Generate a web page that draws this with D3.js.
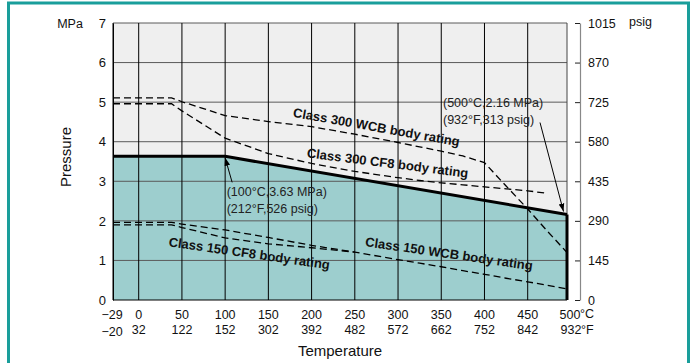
<!DOCTYPE html>
<html><head><meta charset="utf-8">
<script src="https://cdn.jsdelivr.net/npm/d3@7"></script>
<style>
html,body{margin:0;padding:0;background:#fff;}
svg{display:block;font-family:"Liberation Sans",Arial,Helvetica,sans-serif;}
</style></head>
<body>
<svg id="c" width="696" height="363"></svg>
<script>
// ---- data ----
const tempTicksC = [-29, 0, 50, 100, 150, 200, 250, 300, 350, 400, 450, 500];
const tempLabelsC = ["\u221229", "0", "50", "100", "150", "200", "250", "300", "350", "400", "450", "500"];
const tempLabelsF = ["\u221220", "32", "122", "152", "302", "392", "482", "572", "662", "752", "842", "932"];
const mpaTicks = [0, 1, 2, 3, 4, 5, 6, 7];
const psigTicks = [0, 145, 290, 435, 580, 725, 870, 1015];

const wcb300Temp = [-29, 38, 50, 100, 150, 200, 250, 300, 325, 350, 375, 400, 425, 450, 475, 500];
const wcb300MPa  = [5.11, 5.11, 5.01, 4.66, 4.51, 4.38, 4.19, 3.98, 3.87, 3.76, 3.64, 3.47, 2.88, 2.30, 1.74, 1.20];
const cf8300Temp = [-29, 38, 50, 100, 150, 200, 250, 300, 325, 350, 375, 400, 425, 450, 473];
const cf8300MPa  = [4.96, 4.96, 4.78, 4.09, 3.70, 3.45, 3.25, 3.09, 3.02, 2.96, 2.91, 2.86, 2.81, 2.76, 2.70];
const wcb150Temp = [-29, 38, 50, 100, 150, 200, 250, 300, 325, 350, 375, 400, 425, 450, 475, 500];
const wcb150MPa  = [1.96, 1.96, 1.92, 1.77, 1.58, 1.38, 1.21, 1.02, 0.93, 0.84, 0.74, 0.65, 0.55, 0.46, 0.37, 0.28];
const cf8150Temp = [-29, 38, 50, 100, 150, 200, 250];
const cf8150MPa  = [1.90, 1.90, 1.83, 1.57, 1.42, 1.32, 1.21];
const ratingTemp = [-29, 100, 500];
const ratingMPa  = [3.63, 3.63, 2.16];

const seriesLabels = ["Class 300 WCB body rating", "Class 300 CF8 body rating", "Class 150 CF8 body rating", "Class 150 WCB body rating"];
const annot1 = ["(100\u00B0C,3.63 MPa)", "(212\u00B0F,526 psig)"];
const annot2 = ["(500\u00B0C,2.16 MPa)", "(932\u00B0F,313 psig)"];

// ---- layout ----
const svg = d3.select("#c");
const L = 113, R = 567, T = 23, B = 300;
const x = d3.scaleLinear().domain([-29, 0, 450, 500]).range([L, 138.7, 527.7, R]);
const y = d3.scaleLinear().domain([0, 7]).range([B, T]);
const yP = d3.scaleLinear().domain([0, 1015]).range([B, T]);

// frame
svg.append("rect").attr("x", 8.5).attr("y", 3).attr("width", 680).attr("height", 380)
  .attr("fill", "none").attr("stroke", "#1a9e9b").attr("stroke-width", 3);

// background
svg.append("rect").attr("x", L).attr("y", T).attr("width", R - L).attr("height", B - T).attr("fill", "#efefef");

// teal area under rating line
const pts = d3.zip(ratingTemp, ratingMPa);
svg.append("path").datum(pts)
  .attr("d", d3.area().x(d => x(d[0])).y0(y(0)).y1(d => y(d[1])))
  .attr("fill", "#9dcece");

// gridlines
const g = svg.append("g");
g.selectAll("line.h").data(mpaTicks).join("line")
  .attr("x1", L).attr("x2", R).attr("y1", d => y(d)).attr("y2", d => y(d))
  .attr("stroke", d => d === 0 ? "#000" : "#5a5a5a").attr("stroke-width", 1);
g.selectAll("line.v").data(tempTicksC).join("line")
  .attr("x1", d => x(d)).attr("x2", d => x(d)).attr("y1", T).attr("y2", B)
  .attr("stroke", d => d === 500 ? "#444" : "#000").attr("stroke-width", 1);

// dashed series
const line = d3.line().x(d => x(d[0])).y(d => y(d[1]));
[[wcb300Temp, wcb300MPa], [cf8300Temp, cf8300MPa], [wcb150Temp, wcb150MPa], [cf8150Temp, cf8150MPa]].forEach(([t, v]) => {
  svg.append("path").datum(d3.zip(t, v)).attr("d", line)
    .attr("fill", "none").attr("stroke", "#000").attr("stroke-width", 1.3)
    .attr("stroke-dasharray", "7,4");
});

// solid rating line
svg.append("path").datum(pts).attr("d", line)
  .attr("fill", "none").attr("stroke", "#000").attr("stroke-width", 3);
svg.append("line").attr("x1", x(500)).attr("x2", x(500))
  .attr("y1", y(ratingMPa[2])).attr("y2", y(0)).attr("stroke", "#000").attr("stroke-width", 3);

// left axis
const ax = svg.append("g").attr("transform", `translate(${L},0)`)
  .call(d3.axisLeft(y).tickValues(mpaTicks).tickFormat(d3.format("d")).tickSize(0).tickPadding(7));
ax.select(".domain").attr("stroke", "#000");
ax.selectAll("text").attr("font-size", 13).attr("fill", "#111")
  .attr("font-family", "Liberation Sans, Arial, sans-serif");

// right axis (psig)
const axR = svg.append("g").attr("transform", "translate(580,0)")
  .call(d3.axisRight(yP).tickValues(psigTicks).tickFormat(d3.format("d")).tickSize(-5).tickSizeOuter(0).tickPadding(8));
axR.select(".domain").attr("stroke", "#888").attr("stroke-width", 1.2);
axR.selectAll(".tick line").attr("stroke", "#222");
axR.selectAll("text").attr("font-size", 12.5).attr("fill", "#111")
  .attr("font-family", "Liberation Sans, Arial, sans-serif");

// unit labels
svg.append("text").attr("x", 70).attr("y", 24).attr("text-anchor", "middle").attr("dominant-baseline", "central")
  .attr("font-size", 12.5).attr("fill", "#111").text("MPa");
svg.append("text").attr("x", 629).attr("y", 22).attr("dominant-baseline", "central")
  .attr("font-size", 12.5).attr("fill", "#111").text("psig");
svg.append("text").attr("transform", "translate(65,157) rotate(-90)").attr("text-anchor", "middle")
  .attr("dominant-baseline", "central").attr("font-size", 15).attr("fill", "#111").text("Pressure");
svg.append("text").attr("x", 340).attr("y", 350).attr("text-anchor", "middle")
  .attr("dominant-baseline", "central").attr("font-size", 15).attr("fill", "#111").text("Temperature");

// bottom tick labels
const bl = svg.append("g").attr("font-size", 12.5).attr("fill", "#111");
tempTicksC.forEach((t, i) => {
  const last = i === tempTicksC.length - 1;
  const cx = x(t) - (t === -29 ? 1 : 0) + (last ? 3 : 0);
  bl.append("text").attr("x", cx).attr("y", 315).attr("text-anchor", "middle")
    .attr("dominant-baseline", "central").text(tempLabelsC[i]);
  bl.append("text").attr("x", cx + (last ? 1 : 0)).attr("y", t === -29 ? 331.5 : 329.5).attr("text-anchor", "middle")
    .attr("dominant-baseline", "central").text(tempLabelsF[i]);
  if (last) {
    bl.append("text").attr("x", cx + 10).attr("y", 313.5).attr("dominant-baseline", "central").text("\u00B0C");
    bl.append("text").attr("x", cx + 11).attr("y", 329.5).attr("dominant-baseline", "central").text("\u00B0F");
  }
});

// series labels (positioned in data space)
const labelPos = [[275, 4.37, 10], [288, 3.46, 7.2], [128, 1.18, 8.2], [359, 1.17, 8.2]];
labelPos.forEach((p, i) => {
  svg.append("text").attr("transform", `translate(${x(p[0])},${y(p[1])}) rotate(${p[2]})`)
    .attr("text-anchor", "middle").attr("dominant-baseline", "central")
    .attr("font-size", 13).attr("font-weight", "bold").attr("fill", "#111").text(seriesLabels[i]);
});

// arrow marker
svg.append("defs").append("marker").attr("id", "ah").attr("viewBox", "0 0 10 10")
  .attr("refX", 10).attr("refY", 5).attr("markerWidth", 8).attr("markerHeight", 8)
  .attr("markerUnits", "userSpaceOnUse").attr("orient", "auto")
  .append("path").attr("d", "M0,1.5 L10,5 L0,8.5 Z").attr("fill", "#000");

// annotation 1
const p1x = x(ratingTemp[1]), p1y = y(ratingMPa[1]);
svg.append("line").attr("x1", p1x + 7).attr("y1", p1y + 26).attr("x2", p1x).attr("y2", p1y + 1.5)
  .attr("stroke", "#000").attr("stroke-width", 1).attr("marker-end", "url(#ah)");
annot1.forEach((s, i) => svg.append("text").attr("x", p1x + 1.5).attr("y", p1y + 36 + i * 16.5)
  .attr("dominant-baseline", "central").attr("font-size", 12.5).attr("fill", "#222").text(s));

// annotation 2
const p2x = x(ratingTemp[2]), p2y = y(ratingMPa[2]);
svg.append("line").attr("x1", p2x - 27).attr("y1", p2y - 92).attr("x2", p2x - 3.5).attr("y2", p2y - 3)
  .attr("stroke", "#000").attr("stroke-width", 1).attr("marker-end", "url(#ah)");
annot2.forEach((s, i) => svg.append("text").attr("x", p2x - 124).attr("y", p2y - 111.5 + i * 16.5)
  .attr("dominant-baseline", "central").attr("font-size", 12.5).attr("fill", "#222").text(s));
</script>
</body></html>
